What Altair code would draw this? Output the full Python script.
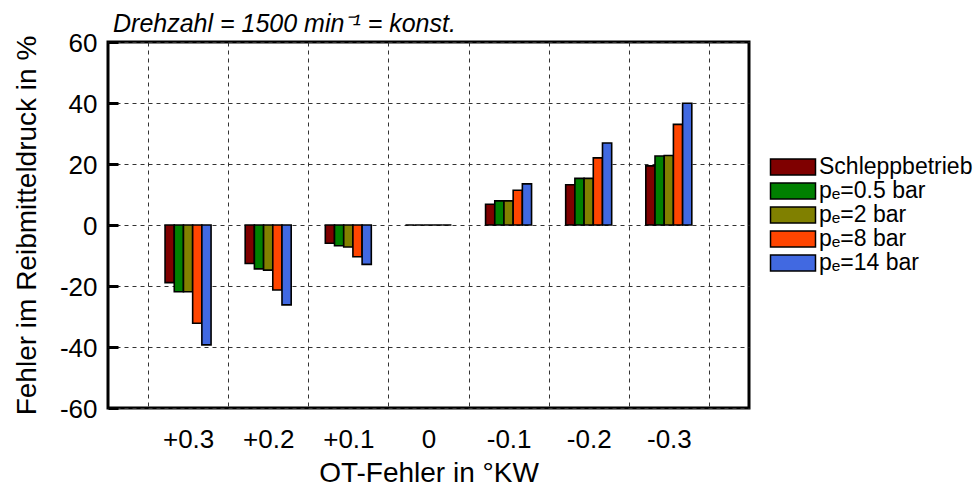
import altair as alt
import pandas as pd

kategorien = ["+0.3", "+0.2", "+0.1", "0", "-0.1", "-0.2", "-0.3"]
serien = ["Schleppbetrieb", "pₑ=0.5 bar", "pₑ=2 bar", "pₑ=8 bar", "pₑ=14 bar"]
farben = ["#7f0000", "#008000", "#808000", "#ff4500", "#4169e1"]

schlepp = [-18.9, -12.6, -6.0, 0.0, 6.8, 13.2, 19.4]
pe_05 = [-21.9, -14.4, -6.8, 0.0, 7.9, 15.3, 22.6]
pe_2 = [-21.9, -14.8, -7.2, 0.0, 7.9, 15.3, 22.8]
pe_8 = [-32.2, -21.3, -10.4, 0.0, 11.4, 22.0, 33.0]
pe_14 = [-39.3, -26.2, -12.9, 0.0, 13.5, 26.9, 39.9]

y_ticks = [-60, -40, -20, 0, 20, 40, 60]

werte = [schlepp, pe_05, pe_2, pe_8, pe_14]
rows = []
for s, vals in zip(serien, werte):
    for k, v in zip(kategorien, vals):
        rows.append({"kat": k, "serie": s, "wert": v})
df = pd.DataFrame(rows)

FONT = "Liberation Sans"

chart = (
    alt.Chart(df)
    .mark_bar(stroke="black", strokeWidth=1.6)
    .encode(
        x=alt.X(
            "kat:N",
            sort=kategorien,
            scale=alt.Scale(paddingInner=0, paddingOuter=0.5),
            axis=alt.Axis(
                title="OT-Fehler in °KW",
                labelAngle=0,
                labelFontSize=26,
                labelPadding=18,
                ticks=False,
                domain=False,
                grid=True,
                tickBand="extent",
                gridDash=[4, 4],
                gridColor="#333333",
                gridWidth=1,
                titleFontSize=28,
                titleFontWeight="normal",
                titleBaseline="alphabetic",
                titleY=73,
            ),
        ),
        xOffset=alt.XOffset(
            "serie:N",
            sort=serien,
            scale=alt.Scale(paddingInner=0, paddingOuter=0, range=[17, 63]),
        ),
        y=alt.Y(
            "wert:Q",
            scale=alt.Scale(domain=[-60, 60], nice=False),
            axis=alt.Axis(
                values=y_ticks,
                labelExpr="'' + datum.value",
                title="Fehler im Reibmitteldruck in %",
                offset=-10,
                tickSize=10,
                tickWidth=3,
                tickColor="black",
                domain=False,
                grid=True,
                gridDash=[4, 4],
                gridColor="#333333",
                gridWidth=1,
                labelFontSize=26,
                labelPadding=11,
                labelOffset=1.5,
                titleFontSize=28,
                titleFontWeight="normal",
                titleBaseline="alphabetic",
                titleAngle=-90,
                titleX=-83,
                titleY=183,
            ),
        ),
        color=alt.Color(
            "serie:N",
            sort=serien,
            scale=alt.Scale(domain=serien, range=farben),
            legend=alt.Legend(
                title=None,
                orient="none",
                legendX=673,
                legendY=113,
                symbolType="M-2,-0.72H2V0.72H-2Z",
                symbolSize=506,
                symbolStrokeColor="black",
                symbolStrokeWidth=1.5,
                symbolOpacity=1,
                labelFontSize=23,
                labelOffset=14,
                labelLimit=300,
                rowPadding=0,
                padding=0,
            ),
        ),
    )
    .properties(
        width=641,
        height=366,
        background="white",
        autosize=alt.AutoSizeParams(type="none"),
        padding={"left": 108, "top": 42, "right": 229, "bottom": 78},
        title=alt.TitleParams(
            text="Drehzahl = 1500 min⁻¹ = konst.",
            anchor="start",
            frame="group",
            fontSize=25,
            fontStyle="italic",
            fontWeight="normal",
            font=FONT,
            color="black",
            dx=5,
            dy=36,
            offset=10,
            baseline="alphabetic",
        ),
    )
    .configure_view(stroke="black", strokeWidth=3)
    .configure_axis(labelFont=FONT, titleFont=FONT, labelColor="black", titleColor="black")
    .configure_legend(labelFont=FONT, labelColor="black")
)

chart.save("out.html", embed_options={"renderer": "svg", "actions": False})
